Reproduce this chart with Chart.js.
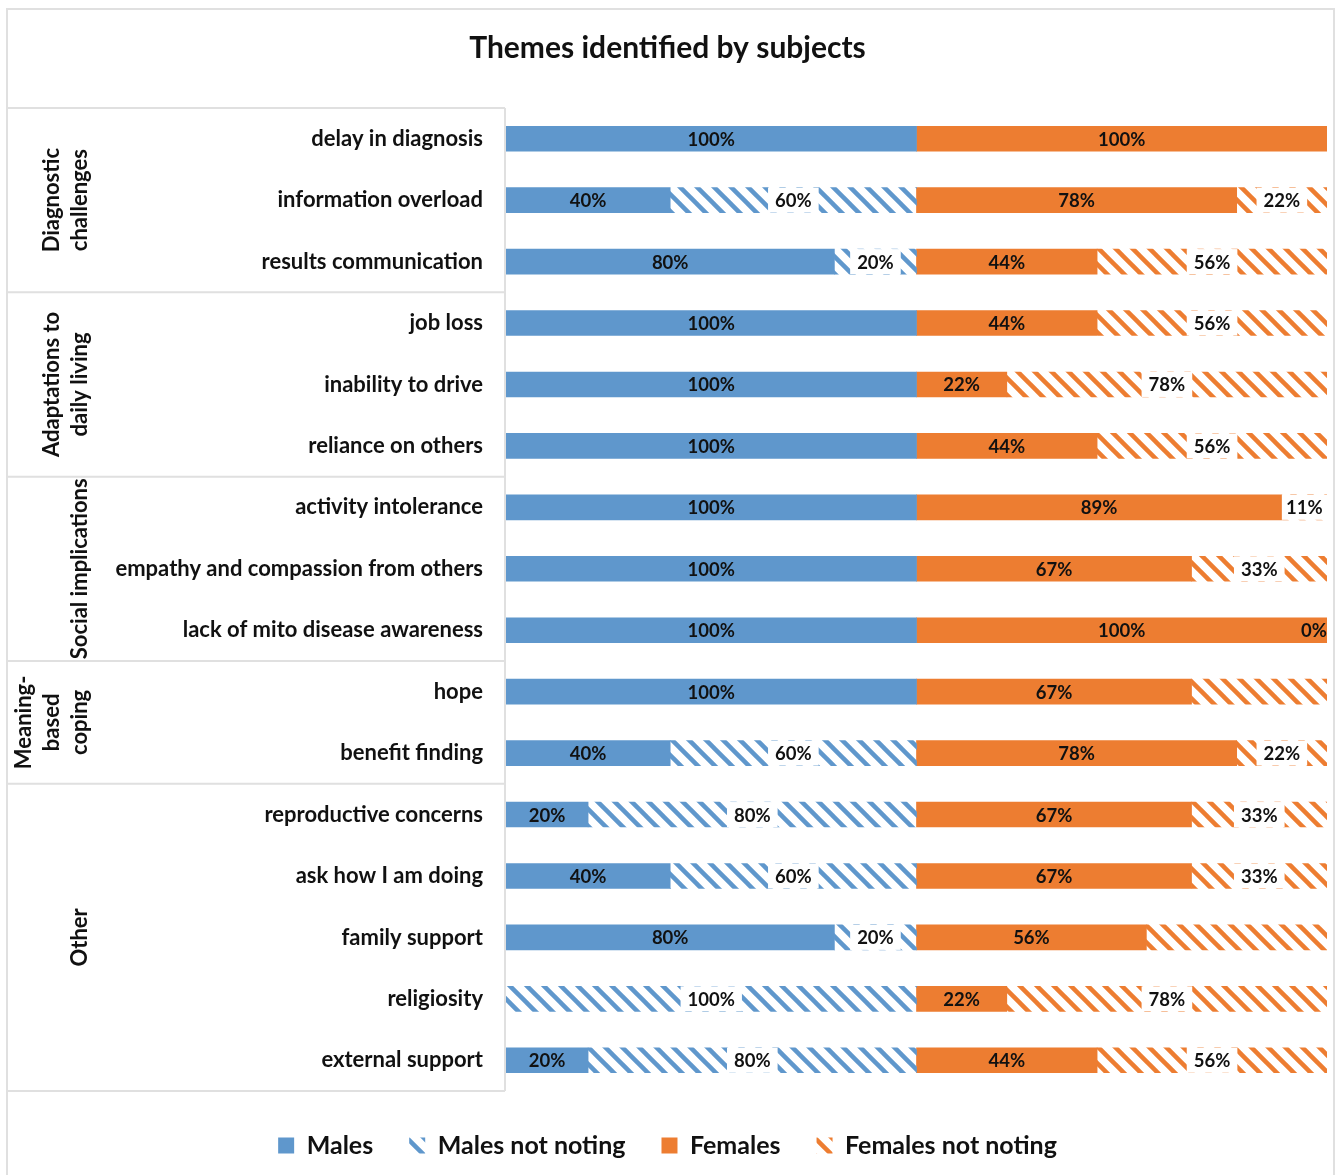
<!DOCTYPE html>
<html>
<head>
<meta charset="utf-8">
<script src="https://cdn.jsdelivr.net/npm/chart.js@4.4.1/dist/chart.umd.min.js"></script>
<style>
  html, body { margin: 0; padding: 0; background: #fff; }
  canvas { display: block; }
</style>
</head>
<body>
<canvas id="chart" width="1338" height="1175"></canvas>
<script>
const themes = ['delay in diagnosis', 'information overload', 'results communication',
    'job loss', 'inability to drive', 'reliance on others',
    'activity intolerance', 'empathy and compassion from others', 'lack of mito disease awareness',
    'hope', 'benefit finding',
    'reproductive concerns', 'ask how I am doing', 'family support', 'religiosity', 'external support'];

const groupNames = [['Diagnostic', 'challenges'], ['Adaptations to', 'daily living'],
    ['Social implications'], ['Meaning-', 'based', 'coping'], ['Other']];
const groupSizes = [3, 3, 3, 2, 5];

// percent of subjects, null = no segment
const males = [100, 40, 80, 100, 100, 100, 100, 100, 100, 100, 40, 20, 40, 80, null, 20];
const malesNotNoting = [null, 60, 20, null, null, null, null, null, null, null, 60, 80, 60, 20, 100, 80];
const females = [100, 78, 44, 44, 22, 44, 89, 67, 100, 67, 78, 67, 67, 56, 22, 44];
const femalesNotNoting = [null, 22, 56, 56, 78, 56, 11, 33, 0, 33, 22, 33, 33, 44, 78, 56];
// rows where the original has no label on the hatched female part
const unlabelled = ['hope', 'family support'];

const BLUE = '#5f97cc';
const ORANGE = '#ed7d31';
const TEXT = '#111';
const FONT = 'Lato';

// wide downward diagonal hatch like excel
const hatch = (color) => {
    const s = 17;
    const c = document.createElement('canvas');
    c.width = s;
    c.height = s;
    const g = c.getContext('2d');
    g.strokeStyle = color;
    g.lineWidth = 4.5;
    for (let k = -1; k <= 1; k++) {
        g.beginPath();
        g.moveTo(k * s - 2, -2);
        g.lineTo(k * s + s + 2, s + 2);
        g.stroke();
    }
    return g.createPattern(c, 'repeat');
};

/*
    frame round the chart + boxes with the theme groups on the left
*/
const groupFrame = {
    id: 'groupFrame',
    beforeDraw(chart) {
        const ctx = chart.ctx;
        ctx.save();
        ctx.fillStyle = '#fff';
        ctx.fillRect(0, 0, chart.width, chart.height);
        ctx.strokeStyle = '#e0e0e0';
        ctx.lineWidth = 2;
        ctx.strokeRect(7, 9, chart.width - 4 - 7, chart.height + 20);
        ctx.restore();
    },
    afterDraw(chart) {
        const ctx = chart.ctx;
        const y = chart.scales.y;
        const area = chart.chartArea;
        const step = y.getPixelForValue(1) - y.getPixelForValue(0);
        const x0 = 7, x1 = area.left - 1;
        ctx.save();
        ctx.strokeStyle = '#e0e0e0';
        ctx.lineWidth = 2;
        ctx.beginPath();
        ctx.moveTo(x1, area.top);
        ctx.lineTo(x1, area.bottom);
        let start = 0;
        const bounds = [y.getPixelForValue(0) - step / 2];
        groupSizes.forEach((n) => {
            start += n;
            bounds.push(y.getPixelForValue(start - 1) + step / 2);
        });
        bounds.forEach((b) => {
            ctx.moveTo(x0, b);
            ctx.lineTo(x1, b);
        });
        ctx.stroke();

        ctx.fillStyle = TEXT;
        ctx.font = 'bold 22px ' + FONT;
        ctx.textAlign = 'center';
        ctx.textBaseline = 'middle';
        groupNames.forEach((lines, gi) => {
            const mid = (bounds[gi] + bounds[gi + 1]) / 2;
            ctx.save();
            ctx.translate(80, mid);
            ctx.rotate(-Math.PI / 2);
            lines.forEach((line, li) => {
                ctx.fillText(line, 0, -(lines.length - 1 - li) * 28);
            });
            ctx.restore();
        });
        ctx.restore();
    }
};

// percent labels, white box behind them on hatched parts
const valueLabels = {
    id: 'valueLabels',
    afterDatasetsDraw(chart) {
        const ctx = chart.ctx;
        const area = chart.chartArea;
        ctx.save();
        ctx.font = 'bold 18.5px ' + FONT;
        ctx.textAlign = 'center';
        ctx.textBaseline = 'middle';
        chart.data.datasets.forEach((ds, di) => {
            chart.getDatasetMeta(di).data.forEach((bar, i) => {
                const v = ds.data[i];
                if (v === null || v === undefined) return;
                if (ds.label === 'Females not noting' && unlabelled.includes(themes[i])) return;
                const text = v + '%';
                const w = ctx.measureText(text).width;
                const left = Math.min(bar.base, bar.x);
                const right = Math.max(bar.base, bar.x);
                let cx = (left + right) / 2;
                if (cx + w / 2 > area.right) cx = area.right - w / 2;
                if (ds.hatched && right > left) {
                    const bl = Math.max(left, cx - w / 2 - 7);
                    const br = Math.min(right, cx + w / 2 + 7);
                    ctx.fillStyle = '#fff';
                    ctx.fillRect(bl, bar.y - bar.height / 2, br - bl, bar.height);
                }
                ctx.fillStyle = TEXT;
                ctx.fillText(text, cx, bar.y + 1);
            });
        });
        ctx.restore();
    }
};

const dataset = (label, data, color, hatched) => ({
    label: label,
    data: data,
    hatched: hatched,
    backgroundColor: hatched ? hatch(color) : color,
    borderWidth: 0,
    barThickness: 25
});

new Chart(document.getElementById('chart'), {
    type: 'bar',
    data: {
        labels: themes,
        datasets: [
            dataset('Males', males, BLUE, false),
            dataset('Males not noting', malesNotNoting, BLUE, true),
            dataset('Females', females, ORANGE, false),
            dataset('Females not noting', femalesNotNoting, ORANGE, true)
        ]
    },
    options: {
        indexAxis: 'y',
        responsive: false,
        animation: false,
        layout: { padding: { left: 8, right: 11, top: 10, bottom: 7 } },
        scales: {
            x: { stacked: true, min: 0, max: 200, display: false },
            y: {
                stacked: true,
                grid: { display: false },
                border: { display: false },
                ticks: {
                    color: TEXT,
                    padding: 15,
                    font: { family: FONT, size: 22, weight: 'bold' }
                },
                afterFit: (scale) => { scale.width = 498; }
            }
        },
        plugins: {
            title: {
                display: true,
                text: 'Themes identified by subjects',
                color: TEXT,
                font: { family: FONT, size: 30, weight: 'bold' },
                padding: { top: 20, bottom: 42 }
            },
            legend: {
                position: 'bottom',
                title: { display: true, text: ' ', font: { size: 5 }, padding: 0 },
                labels: {
                    color: TEXT,
                    boxWidth: 16,
                    boxHeight: 16,
                    padding: 36,
                    font: { family: FONT, size: 25, weight: 'bold' }
                }
            },
            tooltip: { enabled: false }
        }
    },
    plugins: [groupFrame, valueLabels]
});
</script>
</body>
</html>
